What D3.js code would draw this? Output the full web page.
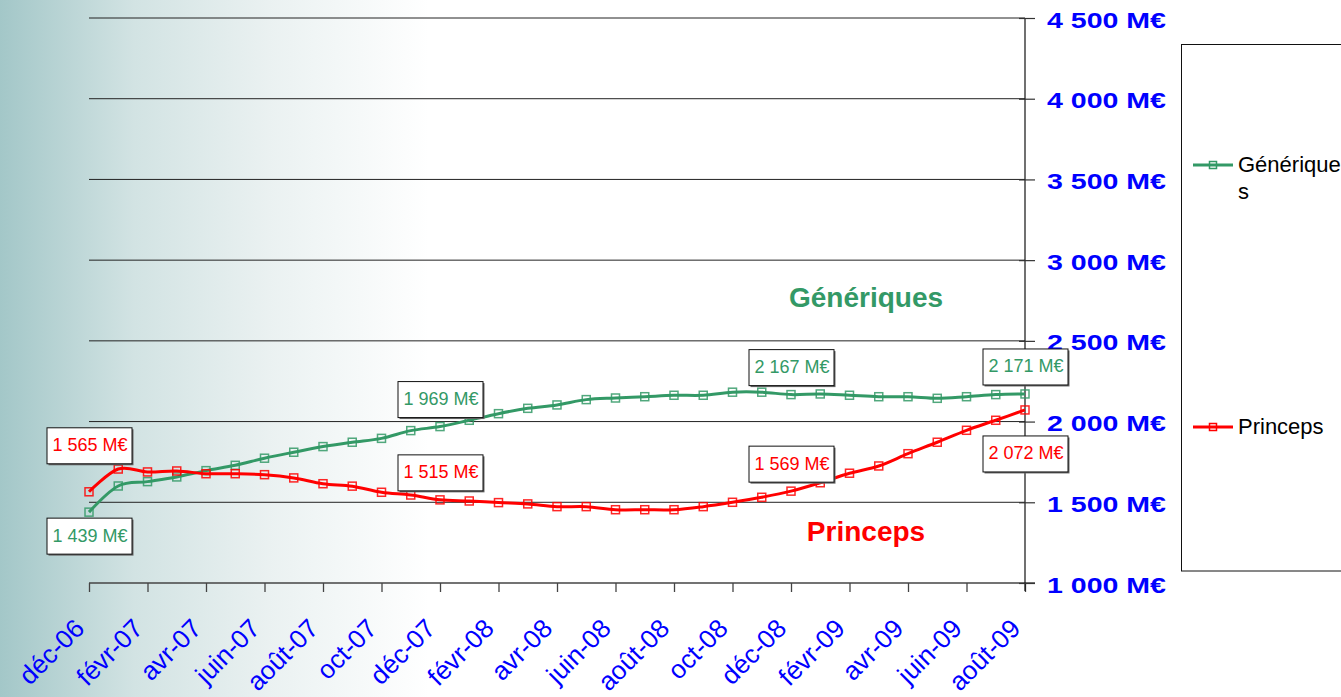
<!DOCTYPE html>
<html>
<head>
<meta charset="utf-8">
<script src="https://cdn.jsdelivr.net/npm/d3@7"></script>
<style>
  html, body { margin: 0; padding: 0; background: #fff; }
  svg { display: block; }
</style>
</head>
<body>
<svg id="chart" width="1341" height="697"></svg>
<script>
// ---------------- DATA ----------------
const months = ["déc-06","janv-07","févr-07","mars-07","avr-07","mai-07","juin-07","juil-07","août-07","sept-07","oct-07","nov-07",
  "déc-07","janv-08","févr-08","mars-08","avr-08","mai-08","juin-08","juil-08","août-08","sept-08","oct-08","nov-08",
  "déc-08","janv-09","févr-09","mars-09","avr-09","mai-09","juin-09","juil-09","août-09"];
const xTickLabels = ["déc-06","févr-07","avr-07","juin-07","août-07","oct-07","déc-07","févr-08","avr-08","juin-08",
  "août-08","oct-08","déc-08","févr-09","avr-09","juin-09","août-09"];
const generiques = [1439,1601,1628,1657,1696,1729,1773,1810,1845,1872,1896,1944,
  1969,2008,2049,2082,2103,2136,2146,2154,2163,2163,2182,2182,
  2167,2171,2163,2154,2154,2144,2154,2167,2171];
const princeps = [1565,1706,1688,1694,1677,1677,1671,1651,1615,1600,1562,1545,
  1515,1508,1498,1490,1473,1473,1454,1454,1454,1473,1500,1531,
  1569,1621,1680,1725,1801,1872,1946,2008,2072];
const yTickValues = [1000,1500,2000,2500,3000,3500,4000,4500];
const yTickLabels = ["1 000 M€","1 500 M€","2 000 M€","2 500 M€","3 000 M€","3 500 M€","4 000 M€","4 500 M€"];
const seriesNames = ["Génériques","Princeps"];
const labelledPoints = [
  {series: 0, month: "déc-06"}, {series: 0, month: "déc-07"}, {series: 0, month: "déc-08"}, {series: 0, month: "août-09"},
  {series: 1, month: "déc-06"}, {series: 1, month: "déc-07"}, {series: 1, month: "déc-08"}, {series: 1, month: "août-09"}
];

// ---------------- STYLE ----------------
const colors = ["#339966", "#ff0000"];
const axisBlue = "#0000ff";
const FONT = "'Liberation Sans', Arial, sans-serif";

const svg = d3.select("#chart");
const W = 1341, H = 697;

// background gradient
const defs = svg.append("defs");
const grad = defs.append("linearGradient").attr("id", "bg").attr("x1", 0).attr("x2", 1).attr("y1", 0).attr("y2", 0);
grad.append("stop").attr("offset", "0").attr("stop-color", "#a3c7c8");
grad.append("stop").attr("offset", "0.1").attr("stop-color", "#d2e3e3");
grad.append("stop").attr("offset", "0.2").attr("stop-color", "#eaf1f1");
grad.append("stop").attr("offset", "0.32").attr("stop-color", "#ffffff");
grad.append("stop").attr("offset", "1").attr("stop-color", "#ffffff");
svg.append("rect").attr("width", W).attr("height", H).attr("fill", "url(#bg)");

// scales
const x = d3.scalePoint().domain(months).range([89, 1025]);
const y = d3.scaleLinear().domain([1000, 4500]).range([583, 18]);

// gridlines
svg.append("g").selectAll("line")
  .data(yTickValues.filter(v => v > 1000))
  .join("line")
  .attr("x1", 89).attr("x2", 1025)
  .attr("y1", d => y(d)).attr("y2", d => y(d))
  .attr("stroke", "#222").attr("stroke-width", 1);

// x axis
const xAxis = d3.axisBottom(x).tickValues(xTickLabels).tickSize(9).tickFormat("");
const gx = svg.append("g").attr("transform", `translate(0,${y(1000)})`).call(xAxis);
gx.select(".domain").attr("d", `M89,0H1035`).attr("stroke", "#444").attr("stroke-width", 1.3);
gx.selectAll(".tick line").attr("stroke", "#444").attr("stroke-width", 1.3);

gx.selectAll(".xlab")
  .data(xTickLabels)
  .join("text")
  .attr("class", "xlab")
  .attr("transform", d => `translate(${x(d) - 3},${47}) rotate(-45)`)
  .attr("text-anchor", "end")
  .attr("font-family", FONT)
  .attr("font-size", 26)
  .attr("fill", axisBlue)
  .text(d => d);

// y axis (right)
const yAxis = d3.axisRight(y).tickValues(yTickValues).tickSize(10).tickFormat("");
const gy = svg.append("g").attr("transform", `translate(1025,0)`).call(yAxis);
gy.select(".domain").attr("d", `M0,${y(4500)}V${y(1000) + 8}`).attr("stroke", "#111").attr("stroke-width", 1.2);
gy.selectAll(".tick line").attr("x1", -6).attr("stroke", "#333").attr("stroke-width", 1.2);
gy.selectAll(".ylab")
  .data(yTickValues)
  .join("text")
  .attr("class", "ylab")
  .attr("x", 22)
  .attr("y", d => y(d) + 9.5)
  .attr("font-family", FONT)
  .attr("font-weight", "bold")
  .attr("font-size", 22)
  .attr("textLength", 119)
  .attr("lengthAdjust", "spacingAndGlyphs")
  .attr("fill", axisBlue)
  .text((d, i) => yTickLabels[i]);

// lines
const seriesData = [generiques, princeps];
const line = d3.line()
  .x((d, i) => x(months[i]))
  .y(d => y(d))
  .curve(d3.curveCatmullRom.alpha(0));

seriesData.forEach((vals, s) => {
  svg.append("path")
    .datum(vals)
    .attr("d", line)
    .attr("fill", "none")
    .attr("stroke", colors[s])
    .attr("stroke-width", 3)
    .attr("stroke-linejoin", "round");
  svg.append("g").selectAll("rect")
    .data(vals)
    .join("rect")
    .attr("x", (d, i) => x(months[i]) - 4)
    .attr("y", d => y(d) - 4)
    .attr("width", 8).attr("height", 8)
    .attr("fill", "none")
    .attr("stroke", colors[s])
    .attr("stroke-width", 1.5)
    .attr("opacity", 0.85);
});

// data labels
const fmt = v => d3.format(",")(v).replace(/,/g, " ") + " M€";
const labelOffset = (p) => {
  // vertical offset of label box centre relative to the point
  if (p.month === "déc-06") return p.series === 1 ? -46 : 24;
  if (p.month === "août-09" && p.series === 1) return 44;
  return -27;
};
labelledPoints.forEach(p => {
  const idx = months.indexOf(p.month);
  const v = seriesData[p.series][idx];
  const cx = x(p.month), cy = y(v) + labelOffset(p);
  const g = svg.append("g");
  g.append("rect")
    .attr("x", cx - 42 + 1.5).attr("y", cy - 18 + 1.5)
    .attr("width", 85).attr("height", 36)
    .attr("fill", "#666");
  g.append("rect")
    .attr("x", cx - 42).attr("y", cy - 18)
    .attr("width", 85).attr("height", 36)
    .attr("fill", "#fff").attr("stroke", "#111").attr("stroke-width", 1);
  g.append("text")
    .attr("x", cx + 1).attr("y", cy + 5.5)
    .attr("text-anchor", "middle")
    .attr("font-family", FONT)
    .attr("font-size", 18)
    .attr("fill", colors[p.series])
    .text(fmt(v));
});

// in-plot titles
svg.append("text").attr("x", 866).attr("y", 307).attr("text-anchor", "middle")
  .attr("font-family", FONT).attr("font-weight", "bold").attr("font-size", 28)
  .attr("fill", colors[0]).text(seriesNames[0]);
svg.append("text").attr("x", 866).attr("y", 541).attr("text-anchor", "middle")
  .attr("font-family", FONT).attr("font-weight", "bold").attr("font-size", 28)
  .attr("fill", colors[1]).text(seriesNames[1]);

// legend
const leg = svg.append("g");
leg.append("rect").attr("x", 1181.5).attr("y", 44.5).attr("width", 200).attr("height", 526.5)
  .attr("fill", "#fff").attr("stroke", "#111").attr("stroke-width", 1);
const legY = [165, 427];
seriesNames.forEach((name, s) => {
  leg.append("line").attr("x1", 1193).attr("x2", 1233).attr("y1", legY[s]).attr("y2", legY[s])
    .attr("stroke", colors[s]).attr("stroke-width", 3);
  leg.append("rect").attr("x", 1213 - 3.5).attr("y", legY[s] - 3.5).attr("width", 7).attr("height", 7)
    .attr("fill", "none").attr("stroke", colors[s]).attr("stroke-width", 1.5);
});
const t0 = leg.append("text").attr("font-family", FONT).attr("font-size", 22).attr("fill", "#000");
t0.append("tspan").attr("x", 1238).attr("y", 172).text("Générique");
t0.append("tspan").attr("x", 1238).attr("y", 199).text("s");
leg.append("text").attr("x", 1238).attr("y", 434).attr("font-family", FONT).attr("font-size", 22)
  .attr("fill", "#000").text(seriesNames[1]);
</script>
</body>
</html>
